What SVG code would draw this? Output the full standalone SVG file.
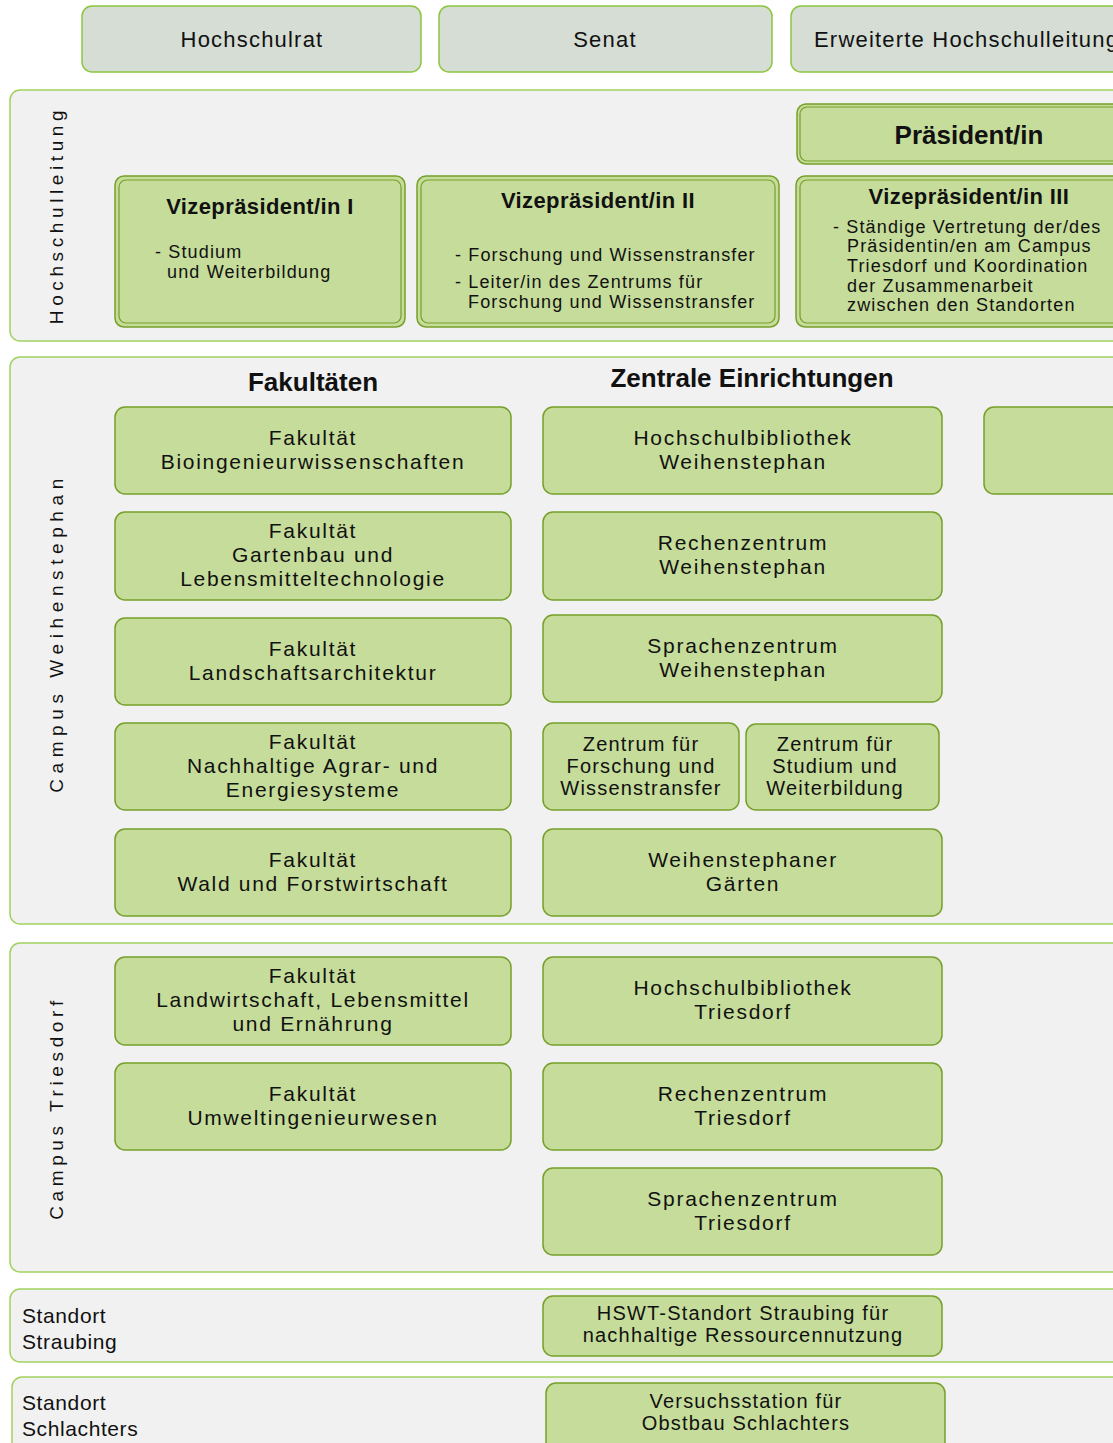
<svg xmlns="http://www.w3.org/2000/svg" width="1113" height="1443" viewBox="0 0 1113 1443">
<style>
text{font-family:"Liberation Sans","DejaVu Sans",Arial,sans-serif;fill:#111}
.panel{fill:#f1f1f1;stroke:#a3d160;stroke-width:1.5}
.top{fill:#d5ddd4;stroke:#8cc63f;stroke-width:1.5}
.box{fill:#c6dc9a;stroke:#76a02a;stroke-width:1.5}
.dbl{fill:none;stroke:#76a02a;stroke-width:1.2}
.t{font-size:21px;letter-spacing:1.7px;text-anchor:middle}
.ts{font-size:20px;letter-spacing:1.2px;text-anchor:middle}
.tt{font-size:22px;letter-spacing:1.2px;text-anchor:middle}
.h{font-size:26px;font-weight:bold;text-anchor:middle}
.vh{font-size:22px;font-weight:bold;letter-spacing:0.4px;text-anchor:middle}
.s{font-size:18px;letter-spacing:1.15px}
.v{font-size:19px;letter-spacing:4.6px;text-anchor:middle}
.l{font-size:21px;letter-spacing:0.6px}
</style>
<g id="gremien">
<g id="hochschulrat"><rect class="top" x="82" y="6" width="339" height="66" rx="10"/><text class="tt" x="252" y="47">Hochschulrat</text></g>
<g id="senat"><rect class="top" x="439" y="6" width="333" height="66" rx="10"/><text class="tt" x="605" y="47">Senat</text></g>
<g id="erweiterte"><rect class="top" x="791" y="6" width="340" height="66" rx="10"/><text class="tt" x="814" y="47" style="text-anchor:start">Erweiterte Hochschulleitung</text></g>
</g>
<g id="hochschulleitung">
<rect class="panel" x="10" y="90" width="1120" height="251" rx="10"/>
<text class="v" transform="translate(63,215) rotate(-90)">Hochschulleitung</text>
<g id="praesident"><rect class="box" x="797" y="104" width="330" height="60" rx="9"/><rect class="dbl" x="800" y="107" width="326" height="54" rx="7"/><text class="h" x="969" y="144">Präsident/in</text></g>
<g id="vp1"><rect class="box" x="115" y="176" width="290" height="151" rx="9"/><rect class="dbl" x="119" y="180" width="282" height="143" rx="7"/>
<text class="vh" x="260" y="214">Vizepräsident/in I</text>
<text class="s" x="155" y="258">- Studium</text><text class="s" x="167" y="278">und Weiterbildung</text></g>
<g id="vp2"><rect class="box" x="417" y="176" width="362" height="151" rx="9"/><rect class="dbl" x="421" y="180" width="354" height="143" rx="7"/>
<text class="vh" x="598" y="208">Vizepräsident/in II</text>
<text class="s" x="455" y="261">- Forschung und Wissenstransfer</text>
<text class="s" x="455" y="288">- Leiter/in des Zentrums für</text>
<text class="s" x="468" y="308">Forschung und Wissenstransfer</text></g>
<g id="vp3"><rect class="box" x="796" y="176" width="332" height="151" rx="9"/><rect class="dbl" x="800" y="180" width="326" height="143" rx="7"/>
<text class="vh" x="969" y="204">Vizepräsident/in III</text>
<text class="s" x="833" y="233">- Ständige Vertretung der/des</text>
<text class="s" x="847" y="252">Präsidentin/en am Campus</text>
<text class="s" x="847" y="272">Triesdorf und Koordination</text>
<text class="s" x="847" y="292">der Zusammenarbeit</text>
<text class="s" x="847" y="311">zwischen den Standorten</text></g>
</g>
<g id="weihenstephan">
<rect class="panel" x="10" y="357" width="1120" height="567" rx="10"/>
<text class="v" transform="translate(63,633) rotate(-90)" style="letter-spacing:5.6px">Campus Weihenstephan</text>
<text class="h" x="313" y="391">Fakultäten</text>
<text class="h" x="752" y="387">Zentrale Einrichtungen</text>
<g id="fak-bio"><rect class="box" x="115" y="407" width="396" height="87" rx="10"/><text class="t" x="313" y="445">Fakultät</text><text class="t" x="313" y="469">Bioingenieurwissenschaften</text></g>
<g id="fak-gl"><rect class="box" x="115" y="512" width="396" height="88" rx="10"/><text class="t" x="313" y="538">Fakultät</text><text class="t" x="313" y="562">Gartenbau und</text><text class="t" x="313" y="586">Lebensmitteltechnologie</text></g>
<g id="fak-la"><rect class="box" x="115" y="618" width="396" height="87" rx="10"/><text class="t" x="313" y="656">Fakultät</text><text class="t" x="313" y="680">Landschaftsarchitektur</text></g>
<g id="fak-ae"><rect class="box" x="115" y="723" width="396" height="87" rx="10"/><text class="t" x="313" y="749">Fakultät</text><text class="t" x="313" y="773">Nachhaltige Agrar- und</text><text class="t" x="313" y="797">Energiesysteme</text></g>
<g id="fak-wf"><rect class="box" x="115" y="829" width="396" height="87" rx="10"/><text class="t" x="313" y="867">Fakultät</text><text class="t" x="313" y="891">Wald und Forstwirtschaft</text></g>
<g id="hb-ws"><rect class="box" x="543" y="407" width="399" height="87" rx="10"/><text class="t" x="743" y="445">Hochschulbibliothek</text><text class="t" x="743" y="469">Weihenstephan</text></g>
<g id="rz-ws"><rect class="box" x="543" y="512" width="399" height="88" rx="10"/><text class="t" x="743" y="550">Rechenzentrum</text><text class="t" x="743" y="574">Weihenstephan</text></g>
<g id="sz-ws"><rect class="box" x="543" y="615" width="399" height="87" rx="10"/><text class="t" x="743" y="653">Sprachenzentrum</text><text class="t" x="743" y="677">Weihenstephan</text></g>
<g id="zfw"><rect class="box" x="543" y="723" width="196" height="87" rx="10"/><text class="ts" x="641" y="751">Zentrum für</text><text class="ts" x="641" y="773">Forschung und</text><text class="ts" x="641" y="795">Wissenstransfer</text></g>
<g id="zsw"><rect class="box" x="746" y="724" width="193" height="86" rx="10"/><text class="ts" x="835" y="751">Zentrum für</text><text class="ts" x="835" y="773">Studium und</text><text class="ts" x="835" y="795">Weiterbildung</text></g>
<g id="wg"><rect class="box" x="543" y="829" width="399" height="87" rx="10"/><text class="t" x="743" y="867">Weihenstephaner</text><text class="t" x="743" y="891">Gärten</text></g>
<g id="partial"><rect class="box" x="984" y="407" width="150" height="87" rx="10"/></g>
</g>
<g id="triesdorf">
<rect class="panel" x="10" y="943" width="1120" height="329" rx="10"/>
<text class="v" transform="translate(63,1108) rotate(-90)">Campus Triesdorf</text>
<g id="fak-le"><rect class="box" x="115" y="957" width="396" height="88" rx="10"/><text class="t" x="313" y="983">Fakultät</text><text class="t" x="313" y="1007">Landwirtschaft, Lebensmittel</text><text class="t" x="313" y="1031">und Ernährung</text></g>
<g id="fak-ui"><rect class="box" x="115" y="1063" width="396" height="87" rx="10"/><text class="t" x="313" y="1101">Fakultät</text><text class="t" x="313" y="1125">Umweltingenieurwesen</text></g>
<g id="hb-td"><rect class="box" x="543" y="957" width="399" height="88" rx="10"/><text class="t" x="743" y="995">Hochschulbibliothek</text><text class="t" x="743" y="1019">Triesdorf</text></g>
<g id="rz-td"><rect class="box" x="543" y="1063" width="399" height="87" rx="10"/><text class="t" x="743" y="1101">Rechenzentrum</text><text class="t" x="743" y="1125">Triesdorf</text></g>
<g id="sz-td"><rect class="box" x="543" y="1168" width="399" height="87" rx="10"/><text class="t" x="743" y="1206">Sprachenzentrum</text><text class="t" x="743" y="1230">Triesdorf</text></g>
</g>
<g id="straubing">
<rect class="panel" x="10" y="1289" width="1120" height="73" rx="10"/>
<text class="l" x="22" y="1323">Standort</text><text class="l" x="22" y="1349">Straubing</text>
<g id="hswt-sr"><rect class="box" x="543" y="1296" width="399" height="60" rx="10"/><text class="ts" x="743" y="1320">HSWT-Standort Straubing für</text><text class="ts" x="743" y="1342">nachhaltige Ressourcennutzung</text></g>
</g>
<g id="schlachters">
<rect class="panel" x="12" y="1377" width="1120" height="90" rx="10"/>
<text class="l" x="22" y="1410">Standort</text><text class="l" x="22" y="1436">Schlachters</text>
<g id="vs-obst"><rect class="box" x="546" y="1383" width="399" height="80" rx="10"/><text class="ts" x="746" y="1408">Versuchsstation für</text><text class="ts" x="746" y="1430">Obstbau Schlachters</text></g>
</g>
<g id="connectors"/>
</svg>
